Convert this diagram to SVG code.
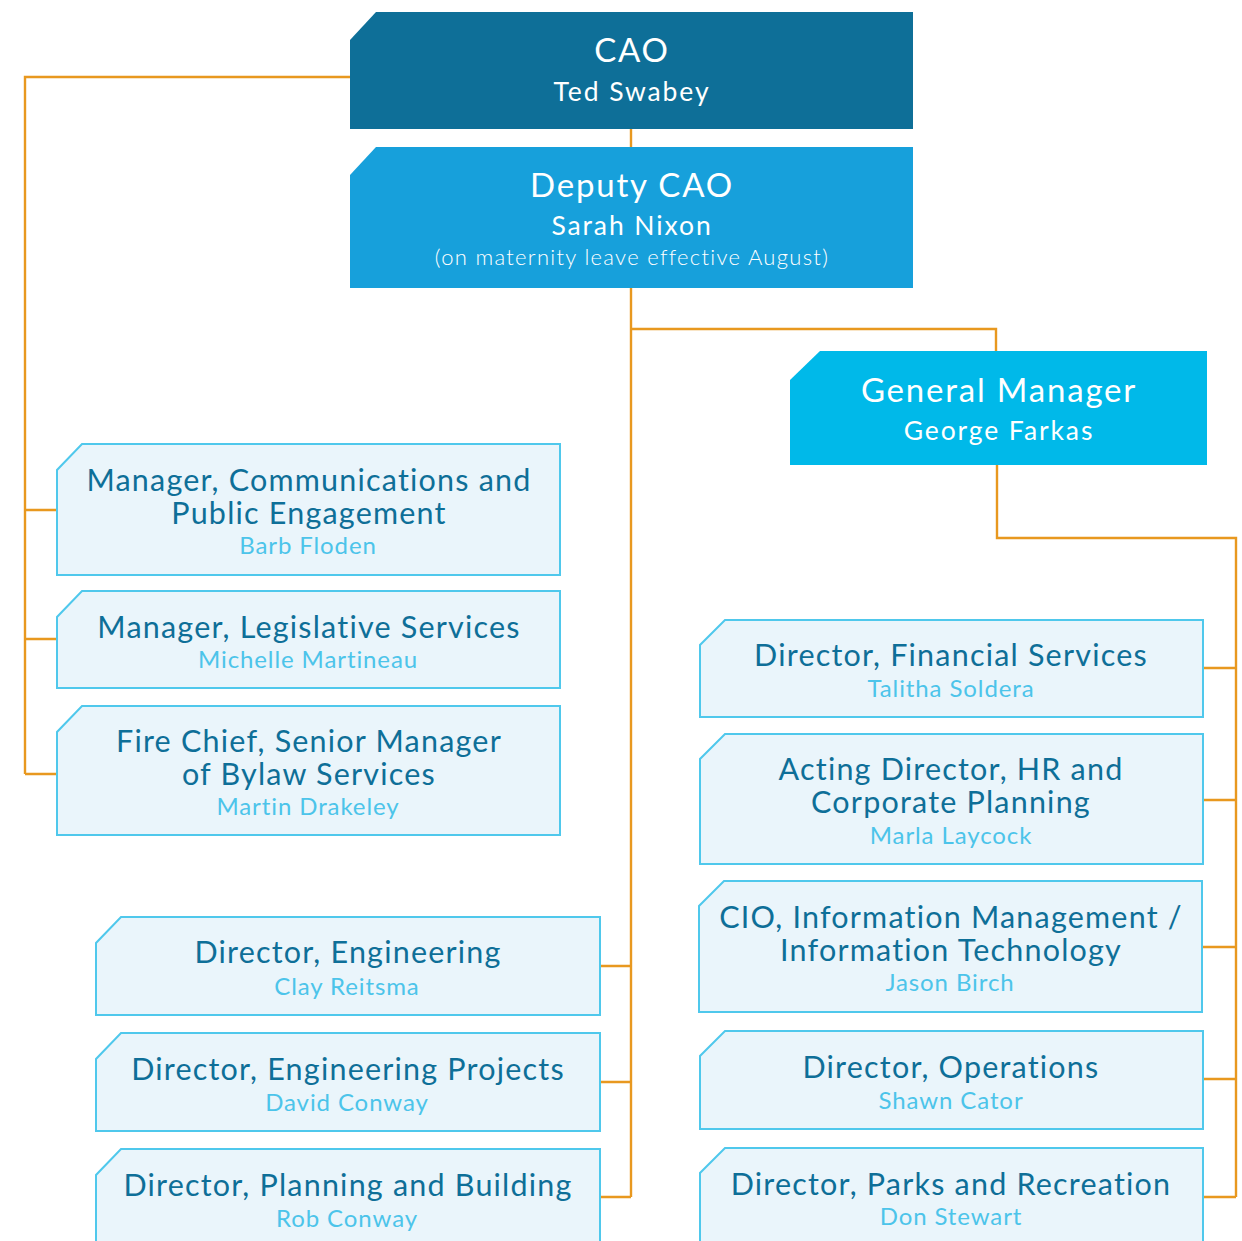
<svg xmlns="http://www.w3.org/2000/svg" width="1242" height="1241" viewBox="0 0 1242 1241">
<style>
text{font-family:Lato,"Open Sans","Liberation Sans",sans-serif;text-anchor:middle}
.c{fill:none;stroke:#e8981f;stroke-width:2.4}
.lb{fill:#eaf5fb;stroke:#4fc8ec;stroke-width:2}
.t{fill:#0e6f98;font-size:30.5px;letter-spacing:1.2px}
.n{fill:#4cc4ea;font-size:24px;letter-spacing:0.9px}
.w{fill:#fff}
.h{font-size:33px;letter-spacing:1.8px}
.s{font-size:26.5px;letter-spacing:1.9px}
</style>
<rect width="1242" height="1241" fill="#fff"/>
<g id="connectors">
<path class="c" d="M350,77H25V774M25,510H57M25,639H57M25,774H57"/>
<path class="c" d="M631,129V147M631,288V1197M631,329H996V351M600,966H631M600,1082H631M600,1197H631"/>
<path class="c" d="M997,465V538H1236V1197M1203,668H1236M1203,800H1236M1203,947H1236M1203,1079H1236M1203,1197H1236"/>
</g>
<g id="cao">
<path d="M376,12H913V129H350V40Z" fill="#0e6f98"/>
<text class="w h" x="632" y="62">CAO</text>
<text class="w s" x="632" y="101">Ted Swabey</text>
</g>
<g id="deputy">
<path d="M376,147H913V288H350V175Z" fill="#17a0db"/>
<text class="w h" x="632" y="197">Deputy CAO</text>
<text class="w s" x="632" y="235" letter-spacing="1.7">Sarah Nixon</text>
<text class="w" x="632" y="265" font-size="22" font-weight="300" letter-spacing="1.3">(on maternity leave effective August)</text>
</g>
<g id="gm">
<path d="M820,351H1207V465H790V380Z" fill="#00b9e9"/>
<text class="w h" x="999" y="402">General Manager</text>
<text class="w s" x="999" y="440" letter-spacing="2.2">George Farkas</text>
</g>
<g id="comms">
<path class="lb" d="M82,444H560V575H57V470Z"/>
<text class="t" x="309" y="491">Manager, Communications and</text>
<text class="t" x="309" y="524">Public Engagement</text>
<text class="n" x="308" y="554">Barb Floden</text>
</g>
<g id="legislative">
<path class="lb" d="M82,591H560V688H57V617Z"/>
<text class="t" x="309" y="638">Manager, Legislative Services</text>
<text class="n" x="308" y="668">Michelle Martineau</text>
</g>
<g id="fire">
<path class="lb" d="M82,706H560V835H57V732Z"/>
<text class="t" x="309" y="752">Fire Chief, Senior Manager</text>
<text class="t" x="309" y="785">of Bylaw Services</text>
<text class="n" x="308" y="815">Martin Drakeley</text>
</g>
<g id="engineering">
<path class="lb" d="M121,917H600V1015H96V943Z"/>
<text class="t" x="348" y="963">Director, Engineering</text>
<text class="n" x="347" y="995">Clay Reitsma</text>
</g>
<g id="engprojects">
<path class="lb" d="M121,1033H600V1131H96V1059Z"/>
<text class="t" x="348" y="1080">Director, Engineering Projects</text>
<text class="n" x="347" y="1111">David Conway</text>
</g>
<g id="planning">
<path class="lb" d="M121,1149H600V1250H96V1175Z"/>
<text class="t" x="348" y="1196">Director, Planning and Building</text>
<text class="n" x="347" y="1227">Rob Conway</text>
</g>
<g id="financial">
<path class="lb" d="M725,620H1203V717H700V645Z"/>
<text class="t" x="951" y="666">Director, Financial Services</text>
<text class="n" x="951" y="697">Talitha Soldera</text>
</g>
<g id="hr">
<path class="lb" d="M725,734H1203V864H700V759Z"/>
<text class="t" x="951" y="780">Acting Director, HR and</text>
<text class="t" x="951" y="813">Corporate Planning</text>
<text class="n" x="951" y="844">Marla Laycock</text>
</g>
<g id="cio">
<path class="lb" d="M724,881H1202V1012H699V906Z"/>
<text class="t" x="951" y="928">CIO, Information Management /</text>
<text class="t" x="951" y="961">Information Technology</text>
<text class="n" x="950" y="991">Jason Birch</text>
</g>
<g id="operations">
<path class="lb" d="M725,1031H1203V1129H700V1056Z"/>
<text class="t" x="951" y="1078">Director, Operations</text>
<text class="n" x="951" y="1109">Shawn Cator</text>
</g>
<g id="parks">
<path class="lb" d="M725,1148H1203V1250H700V1173Z"/>
<text class="t" x="951" y="1195">Director, Parks and Recreation</text>
<text class="n" x="951" y="1225">Don Stewart</text>
</g>
</svg>
